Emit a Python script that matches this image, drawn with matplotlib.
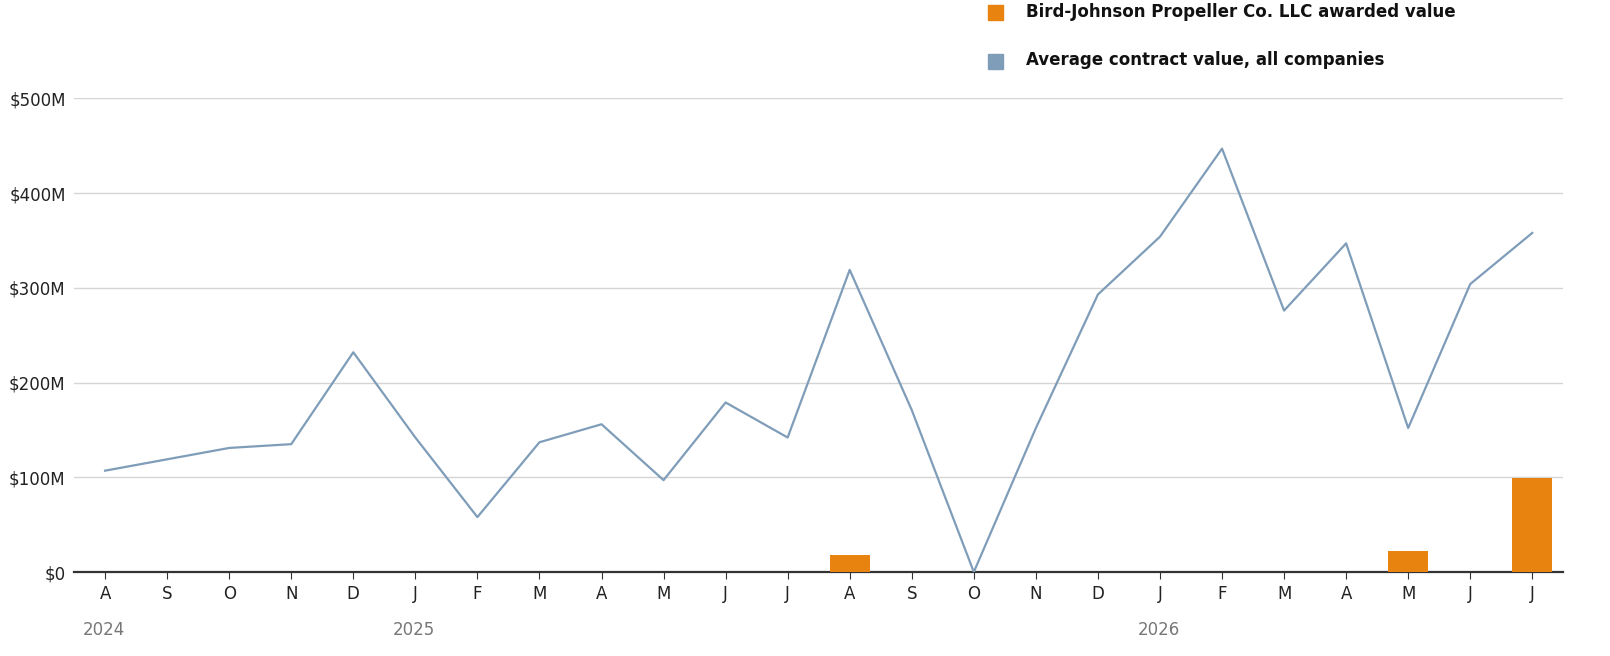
import matplotlib
matplotlib.use("Agg")
import matplotlib.pyplot as plt
import numpy as np

months = ["A","S","O","N","D","J","F","M","A","M","J","J","A","S","O","N","D","J","F","M","A","M","J","J"]
avg_values = [107,119,131,135,232,142,58,137,156,97,179,142,319,171,0,152,293,354,447,276,347,152,304,358]
company_values = [0,0,0,0,0,0,0,0,0,0,0,0,18,0,0,0,0,0,0,0,0,22,0,99]
year_labels = {0:"2024", 5:"2025", 17:"2026"}

fig = plt.figure(figsize=(16.1,6.56), dpi=100)
ax = fig.add_axes([0.046, 0.128, 0.925, 0.722])
x = np.arange(len(months))
ax.bar(x, company_values, width=0.65, color="#e8830f", zorder=3)
ax.plot(x, avg_values, color="#7f9db9", lw=1.6, zorder=4)
ax.set_xlim(-0.5, 23.5)
ax.set_ylim(0, 500)
ax.set_yticks([0,100,200,300,400,500])
ax.set_yticklabels(["$0","$100M","$200M","$300M","$400M","$500M"], fontsize=12, color="#222")
ax.yaxis.grid(True, color="#d5d5d5", lw=1)
ax.set_axisbelow(True)
for s in ["top","right","left"]:
    ax.spines[s].set_visible(False)
ax.spines["bottom"].set_color("#333"); ax.spines["bottom"].set_linewidth(1.6)
ax.tick_params(axis="y", length=0, pad=6)
ax.set_xticks(x)
ax.set_xticklabels(months, fontsize=12, color="#222")
ax.tick_params(axis="x", length=5, color="#333", pad=4)
for i, lab in year_labels.items():
    ax.annotate(lab, (i, 0), xycoords=("data","axes fraction"), xytext=(-16, -45),
                textcoords="offset points", fontsize=12, color="#777")
ax.text(-0.5, 1.05, "USD", transform=ax.get_yaxis_transform(), fontsize=11, color="#666")
fig.patches.append(plt.Rectangle((988/1610, 1-20/656), 15/1610, 15/656, transform=fig.transFigure, color="#e8830f"))
fig.patches.append(plt.Rectangle((988/1610, 1-69/656), 15/1610, 15/656, transform=fig.transFigure, color="#7f9db9"))
fnt = dict(family=["DejaVu Sans"], weight="bold", fontsize=12, color="#111", va="center")
fig.text(1026/1610, 1-12/656, "Bird-Johnson Propeller Co. LLC awarded value", **fnt)
fig.text(1026/1610, 1-60/656, "Average contract value, all companies", **fnt)
fig.savefig("out.png", dpi=100)
